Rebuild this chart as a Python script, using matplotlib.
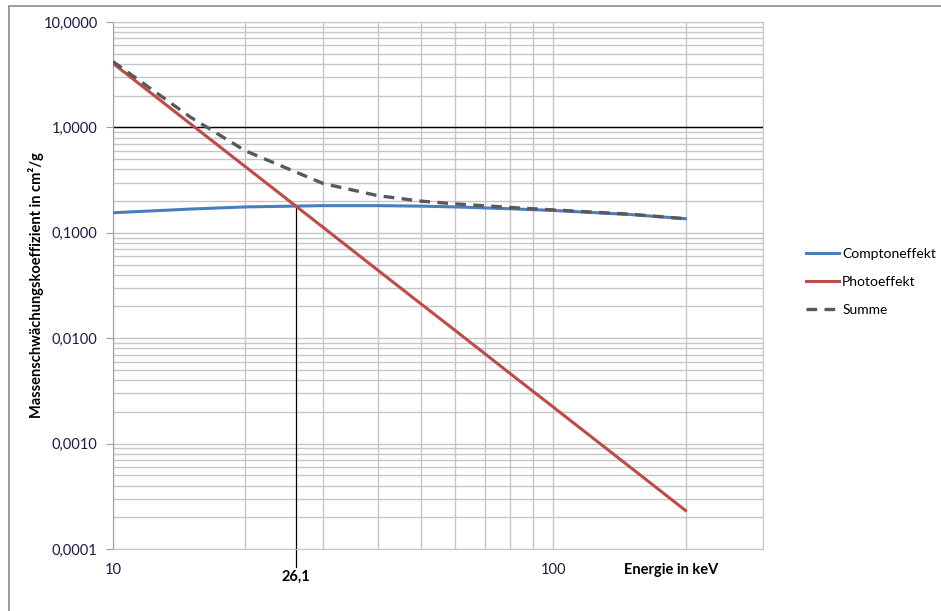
import matplotlib.pyplot as plt
from matplotlib.patches import Rectangle
from matplotlib.ticker import FixedLocator, NullFormatter

plt.rcParams['font.family'] = ['Lato', 'DejaVu Sans']

# Energie in keV
energie = [10, 15, 20, 30, 40, 50, 60, 80, 100, 150, 200]
compton = [0.155, 0.168, 0.176, 0.181, 0.181, 0.179, 0.176, 0.169, 0.163, 0.149, 0.136]
photo = [4.05, 1.08, 0.423, 0.113, 0.0441, 0.0213, 0.0118, 0.0046, 0.00223, 0.000594, 0.000232]
summe = [4.21, 1.25, 0.599, 0.294, 0.225, 0.200, 0.188, 0.174, 0.165, 0.150, 0.136]

y_ticks = [0.0001, 0.001, 0.01, 0.1, 1, 10]
y_labels = ['0,0001', '0,0010', '0,0100', '0,1000', '1,0000', '10,0000']
x_ticks = [10, 100]
x_labels = ['10', '100']
schnitt_e = 26.1
schnitt_mu = 0.178

tick_col = '#1b1b45'
grid_col = '#c6c6c6'

fig = plt.figure(figsize=(9.41, 6.11), dpi=100)
# Rahmen wie im Excel-Diagramm
fig.patches.append(Rectangle((9 / 941, -0.1), 1.1, (611 - 6) / 611 + 0.1,
                             transform=fig.transFigure, fill=False,
                             edgecolor='#8c8c8c', linewidth=1.2))
ax = fig.add_axes([113 / 941, 62 / 611, 650 / 941, 527 / 611])

ax.set_xscale('log')
ax.set_yscale('log')
ax.set_xlim(10, 300)
ax.set_ylim(0.0001, 10)

# Gitter
ax.xaxis.set_major_locator(FixedLocator(x_ticks))
ax.xaxis.set_minor_locator(FixedLocator([20, 30, 40, 50, 60, 70, 80, 90, 200, 300]))
ax.xaxis.set_minor_formatter(NullFormatter())
ax.yaxis.set_major_locator(FixedLocator(y_ticks))
ax.yaxis.set_minor_formatter(NullFormatter())
ax.grid(True, which='both', color=grid_col, linewidth=1.0, zorder=0)
ax.set_axisbelow(True)

for s in ['top', 'right', 'bottom']:
    ax.spines[s].set_color(grid_col)
ax.spines['left'].set_color('#a0a0a0')
ax.axhline(1, color='black', linewidth=1.0, zorder=1)

ax.set_yticks(y_ticks)
ax.set_yticklabels(y_labels, color=tick_col, fontsize=10.5)
ax.set_xticks(x_ticks)
ax.set_xticklabels(x_labels, color=tick_col, fontsize=10.5)
ax.tick_params(axis='y', which='major', length=5, color='#a0a0a0', pad=6)
ax.tick_params(axis='y', which='minor', length=0)
ax.tick_params(axis='x', which='both', length=0, pad=10)

ax.plot(energie, compton, color='#4a7ebb', linewidth=2.2, label='Comptoneffekt', zorder=3)
ax.plot(energie, photo, color='#be4b48', linewidth=2.2, label='Photoeffekt', zorder=3)
ax.plot(energie, summe, color='#595959', linewidth=2.4, linestyle=(0, (3.2, 2.2)),
        label='Summe', zorder=4)

# Markierung des Schnittpunkts
ax.plot([schnitt_e, schnitt_e], [6.7e-5, schnitt_mu], color='black', linewidth=0.9,
        clip_on=False, zorder=2)
ax.text(schnitt_e, -0.053, '26,1', transform=ax.get_xaxis_transform(),
        ha='center', va='center', fontsize=10.5, fontweight='bold', color='black')

ax.text(0.858, -0.04, 'Energie in keV', transform=ax.transAxes, ha='center',
        va='center', fontsize=10.5, fontweight='bold', color='black')
fig.text(36 / 941, 1 - 285 / 611, 'Massenschwächungskoeffizient in cm²/g',
         rotation=90, ha='center', va='center', fontsize=10.5, fontweight='bold')

leg = fig.legend(loc='upper left', bbox_to_anchor=(806 / 941, 1 - 248 / 611),
                 frameon=False, fontsize=10, handlelength=2.4, handletextpad=0.2,
                 labelspacing=1.15, borderpad=0, borderaxespad=0)

fig.savefig('out.png', dpi=100)
